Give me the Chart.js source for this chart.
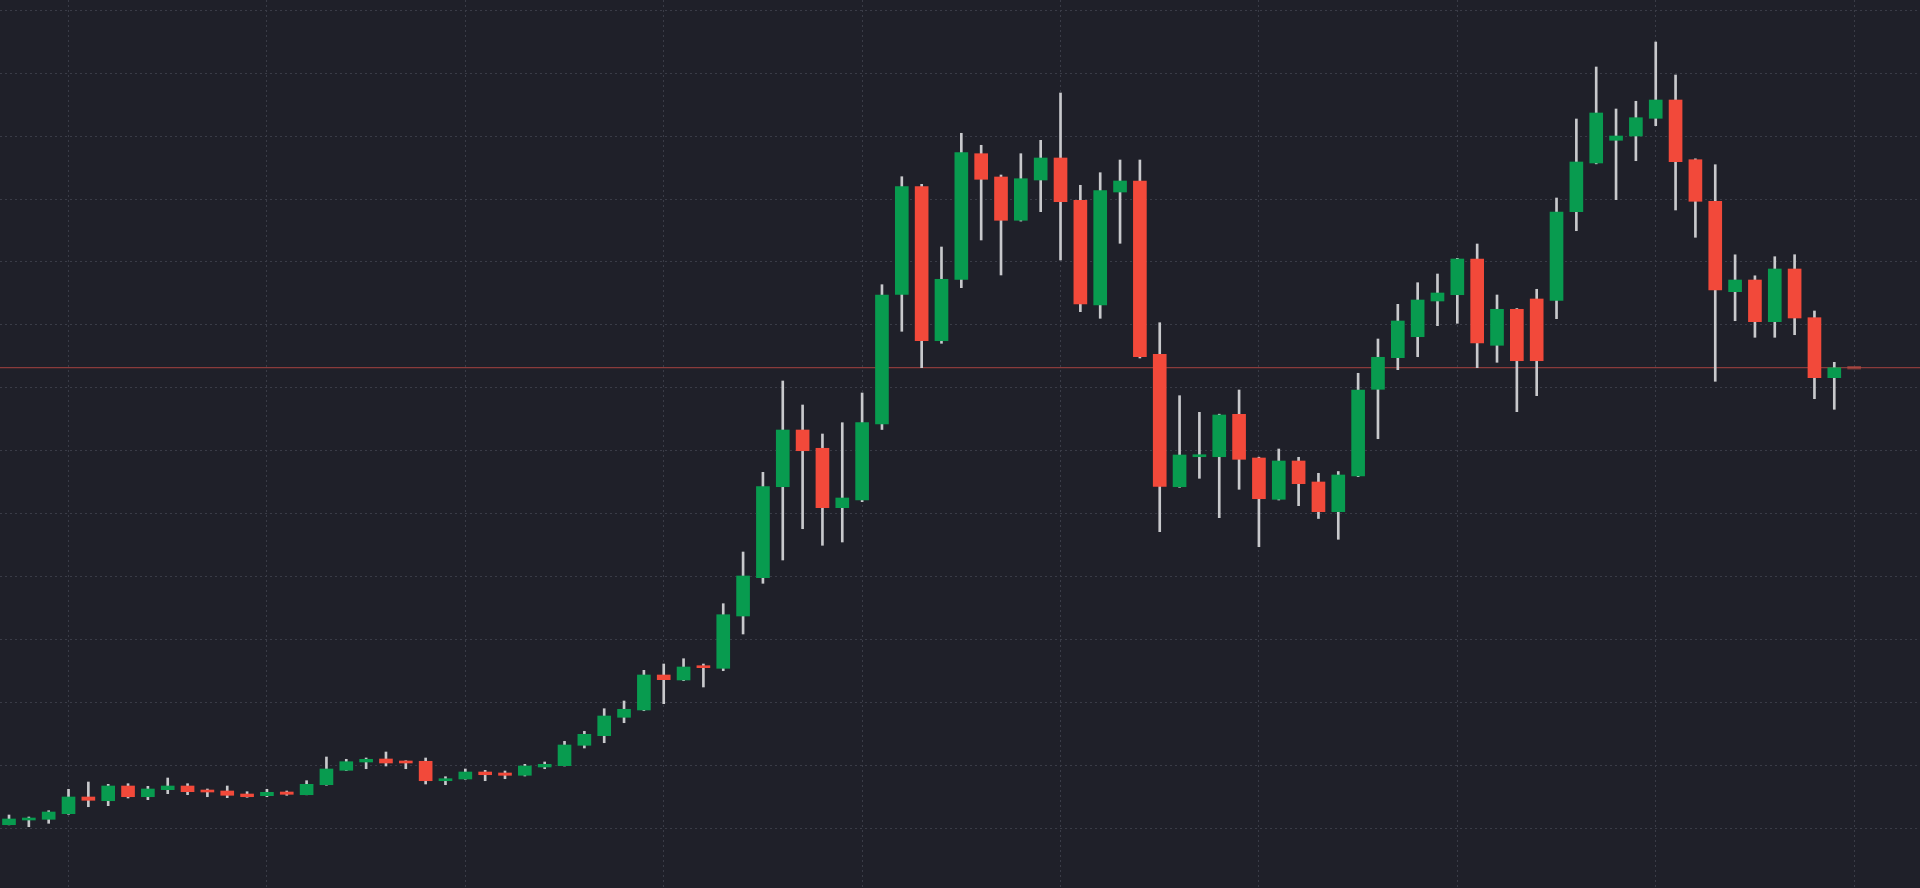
<!DOCTYPE html>
<html>
<head>
<meta charset="utf-8">
<style>
  html, body { margin: 0; padding: 0; background: #1f2029; overflow: hidden; }
  #wrap { width: 1920px; height: 888px; }
</style>
<script src="https://cdn.jsdelivr.net/npm/chart.js@4/dist/chart.umd.min.js"></script>
</head>
<body>
<div id="wrap"><canvas id="c" width="1920" height="888"></canvas></div>
<script>
// ---- data (one entry per period) ----
const open = [5262,5636,5692,6137,7465,7170,8339,7488,8045,8339,
  8021,7942,7703,7568,7862,7647,8442,9587,10247,10486,
  10303,10303,8760,8896,9452,9373,9190,9850,9953,11575,
  12338,13801,14381,17164,16766,17879,17696,21854,24899,32133,
  36641,35187,30464,31076,37118,47429,55983,43740,48622,58607,
  56755,53312,56516,58265,54902,46579,55562,56437,42659,32133,
  34518,34518,37889,34415,31132,34177,32507,30146,32984,39877,
  42389,44058,46897,47397,50236,43375,46237,47056,46952,53996,
  57868,59672,60014,61421,62876,58130,54823,47636,48566,45251,
  49441,45569,40799];
const high = [6034,5875,6375,8077,8657,8474,8522,8315,8975,8522,
  8101,8339,7886,8077,7942,8760,10645,10462,10565,11042,
  10350,10565,9078,9691,9587,9532,10064,10247,11893,12688,
  14484,15097,17537,18038,18459,18038,22832,26942,33278,40537,
  38629,36323,37221,39583,48192,56778,56174,51190,60229,59275,
  56914,58607,59672,63433,56095,57096,58106,58106,45171,39368,
  38048,37900,39821,34480,35131,34471,33199,33342,41149,43876,
  46634,48351,49043,50290,51428,47374,46300,47827,55085,61366,
  65500,62161,62773,67487,64864,58200,57732,50569,48900,50418,
  50577,46102,42023];
const low = [5250,5103,5374,6089,6693,6773,7385,7250,7727,7647,
  7488,7409,7441,7488,7600,7640,8400,9560,9714,9929,
  9714,8498,8442,8870,8760,8919,9134,9714,9930,11360,
  11781,13371,14325,14882,16710,16210,17505,20423,24454,26306,
  28794,27475,27737,30941,36681,44488,41594,43534,47954,51746,
  48964,53250,53996,50156,46046,45521,51484,42365,28556,32086,
  32801,29669,31927,27363,31076,30623,29605,27952,32930,35949,
  41435,42468,44933,45124,41594,42023,38096,39368,45489,52485,
  57800,54950,58050,60833,54131,51961,40513,45330,44011,44011,
  44217,39129,38287];
const close = [5716,5795,6272,7465,7202,8339,7488,8101,8339,7886,
  7862,7600,7488,7838,7679,8474,9691,10271,10462,10168,
  10168,8760,8919,9452,9237,9190,9929,10064,11599,12449,
  13904,14437,17164,16790,17800,17744,21957,25034,32133,36641,
  34995,30464,31235,37221,47374,55983,43740,48622,58686,56572,
  53312,56619,58265,54791,46658,55665,56437,42468,32165,34654,
  34654,37834,34312,31179,34177,32372,30146,33064,39821,42421,
  45307,46976,47533,50236,43558,46237,42150,42150,53972,57947,
  61843,60014,61469,62876,57971,54823,47771,48566,45251,49441,
  45545,40799,41594];
const periods = close.map((_, i) => i);          // period index of each candle
const xGridTicks = [3, 13, 23, 33, 43, 53, 63, 73, 83, 93];
const yGridTicks = [5000,10000,15000,20000,25000,30000,35000,40000,45000,50000,55000,60000,65000,70000];
const xRange = [-0.4536, 96.32];
const yRange = [230, 70826];
const lastClose = close[close.length - 1];
const nextPeriod = periods.length;               // forming (empty) period

// ---- styles ----
const UP = '#089b4f';
const DOWN = '#f2493a';
const WICK = '#c8c9cc';
const BG = '#1f2029';
const GRID = '#3a3c47';
const PRICE_LINE = '#8a3b3b';

const bgPlugin = {
  id: 'bg',
  beforeDraw(chart) {
    const ctx = chart.ctx;
    ctx.save();
    ctx.fillStyle = BG;
    ctx.fillRect(0, 0, chart.width, chart.height);
    ctx.restore();
  }
};

new Chart(document.getElementById('c'), {
  type: 'bar',
  data: {
    datasets: [
      {
        type: 'line',
        label: 'last',
        data: [{ x: xRange[0], y: lastClose }, { x: xRange[1], y: lastClose }],
        borderColor: PRICE_LINE,
        borderWidth: 1.2,
        pointRadius: 0,
        order: 4
      },
      {
        label: 'wicks',
        data: periods.map(i => ({ x: i, y: [low[i], high[i]] })),
        backgroundColor: WICK,
        barThickness: 2,
        grouped: false,
        borderWidth: 0,
        order: 3
      },
      {
        label: 'bodies',
        data: periods.map(i => ({ x: i, y: [open[i], close[i]] })),
        backgroundColor: periods.map(i => close[i] >= open[i] ? UP : DOWN),
        barThickness: 13,
        minBarLength: 2,
        grouped: false,
        borderWidth: 0,
        borderSkipped: false,
        order: 2
      },
      {
        label: 'forming',
        data: [{ x: nextPeriod, y: [lastClose - 110, lastClose + 110] }],
        backgroundColor: 'rgba(200,80,70,0.55)',
        barThickness: 13,
        grouped: false,
        borderWidth: 0,
        order: 1
      }
    ]
  },
  options: {
    responsive: false,
    animation: false,
    events: [],
    layout: { padding: 0 },
    plugins: { legend: { display: false }, tooltip: { enabled: false } },
    scales: {
      x: {
        type: 'linear',
        min: xRange[0],
        max: xRange[1],
        offset: false,
        ticks: { display: false },
        afterBuildTicks: s => { s.ticks = xGridTicks.map(v => ({ value: v })); },
        grid: { color: GRID, lineWidth: 1, drawTicks: false, offset: false },
        border: { display: false, dash: [2, 3] }
      },
      y: {
        type: 'linear',
        min: yRange[0],
        max: yRange[1],
        ticks: { display: false },
        afterBuildTicks: s => { s.ticks = yGridTicks.map(v => ({ value: v })); },
        grid: { color: GRID, lineWidth: 1, drawTicks: false, offset: false },
        border: { display: false, dash: [2, 3] }
      }
    }
  },
  plugins: [bgPlugin]
});
</script>
</body>
</html>
